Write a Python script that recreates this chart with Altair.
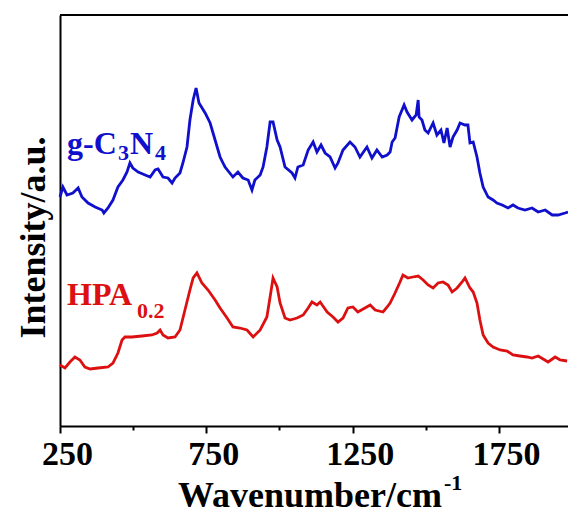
import altair as alt
import pandas as pd

# ---- data (wavenumber in cm-1, intensity in a.u.) ----
wn_blue = [250, 260, 274, 294, 312, 325, 346, 370, 394, 400, 414, 431, 448, 465, 479, 489,
           499, 517, 541, 558, 575, 585, 602, 619, 633, 643, 660, 670, 684, 694, 705, 715,
           725, 746, 763, 780, 797, 807, 814, 841, 858, 875, 893, 906, 916, 934, 944, 957,
           968, 978, 992, 1002, 1019, 1043, 1053, 1063, 1081, 1098, 1115, 1128, 1142, 1156,
           1173, 1190, 1200, 1217, 1241, 1258, 1275, 1299, 1316, 1333, 1351, 1368, 1378,
           1385, 1395, 1409, 1426, 1436, 1453, 1467, 1474, 1477, 1487, 1497, 1508, 1525,
           1538, 1552, 1562, 1573, 1583, 1593, 1607, 1617, 1634, 1644, 1651, 1662, 1675,
           1685, 1696, 1713, 1730, 1743, 1761, 1781, 1798, 1815, 1839, 1863, 1884, 1908,
           1932, 1952, 1976, 1986]
int_blue = [229, 239, 231, 233, 238, 229, 223, 219, 216, 213, 218, 226, 239, 246, 254, 263,
            258, 254, 251, 249, 256, 257, 249, 248, 243, 248, 253, 263, 279, 306, 326, 338,
            323, 313, 303, 286, 269, 263, 259, 249, 254, 248, 246, 236, 246, 251, 259, 279,
            304, 304, 286, 279, 259, 253, 248, 259, 261, 276, 284, 274, 281, 273,
            269, 258, 263, 276, 284, 279, 269, 279, 268, 276, 269, 271, 274,
            284, 288, 309, 321, 314, 306, 311, 326, 309, 306, 296, 293, 303,
            291, 296, 283, 298, 279, 289, 296, 303, 301, 301, 283, 284, 269,
            253, 239, 229, 226, 223, 221, 218, 221, 218, 216, 218, 214, 216,
            211, 211, 213, 214]

wn_red = [250, 267, 284, 301, 318, 335, 353, 380, 414, 431, 448, 462, 472, 496, 530, 564,
          582, 592, 602, 619, 643, 660, 677, 694, 705, 718, 735, 756, 780, 797, 821, 841,
          865, 889, 910, 934, 957, 968, 978, 992, 1002, 1019, 1036, 1060, 1081, 1098, 1111,
          1128, 1139, 1163, 1183, 1200, 1217, 1234, 1251, 1268, 1292, 1310, 1327, 1354,
          1368, 1378, 1395, 1412, 1422, 1439, 1456, 1474, 1491, 1508, 1525, 1542, 1559,
          1576, 1590, 1607, 1624, 1634, 1651, 1662, 1675, 1685, 1696, 1713, 1730, 1754,
          1778, 1798, 1822, 1846, 1863, 1884, 1901, 1918, 1942, 1959, 1983]
int_red = [61, 58, 64, 69, 66, 59, 57, 58, 59, 63, 73, 86, 89, 89, 90, 91,
           93, 96, 91, 88, 89, 96, 116, 136, 148, 153, 143, 136, 126, 118, 108, 99,
           98, 96, 89, 96, 109, 129, 148, 139, 123, 108, 106, 108, 111, 118, 124,
           121, 124, 114, 109, 104, 108, 118, 119, 114, 118, 121, 116, 114,
           119, 123, 133, 144, 151, 148, 149, 150, 146, 141, 138, 143, 144,
           141, 134, 138, 144, 148, 138, 134, 123, 106, 91, 83, 79, 76,
           75, 71, 70, 69, 68, 70, 67, 64, 69, 66, 65]

tick_values = [250, 500, 750, 1000, 1250, 1500, 1750]

FONT = "Liberation Serif"
W, H = 508, 411
BLUE = "#0F0FCC"
RED = "#DC1010"

blue_df = pd.DataFrame({"wn": wn_blue, "I": int_blue})
red_df = pd.DataFrame({"wn": wn_red, "I": int_red})

x_scale = alt.Scale(domain=[250, 1986], nice=False, zero=False)
y_scale = alt.Scale(domain=[0, 411], nice=False, zero=False)

x_axis = alt.Axis(
    values=tick_values, format="d", title=None, grid=False,
    labelExpr="datum.value % 500 == 250 ? datum.label : ''",
    tickSize={"condition": {"test": "datum.value % 500 == 250", "value": 7}, "value": 4},
    tickWidth=2, tickColor="black", domainWidth=2, domainColor="black",
    labelFont=FONT, labelFontWeight="bold", labelFontSize=34, labelColor="black",
    labelPadding=4, labelOffset=7, labelFlush=False, labelOverlap=False,
)
y_axis = alt.Axis(
    labels=False, ticks=False, grid=False, domainWidth=2, domainColor="black",
    title="Intensity/a.u.", titleFont=FONT, titleFontSize=36, titleFontWeight="bold",
    titleColor="black", titleX=-8, titleY=222, titleAngle=270, titleAlign="center",
    titleBaseline="bottom",
)

blue = alt.Chart(blue_df).mark_line(color=BLUE, strokeWidth=2.8).encode(
    x=alt.X("wn:Q", scale=x_scale, axis=x_axis),
    y=alt.Y("I:Q", scale=y_scale, axis=y_axis),
)
red = alt.Chart(red_df).mark_line(color=RED, strokeWidth=2.8).encode(
    x=alt.X("wn:Q", scale=x_scale, axis=x_axis),
    y=alt.Y("I:Q", scale=y_scale, axis=y_axis),
)

one = alt.Data(values=[{}])
top_border = alt.Chart(one).mark_rule(color="black", strokeWidth=2).encode(
    x=alt.value(0), x2=alt.value(W), y=alt.value(0)
)


def txt(s, x, y, size, color, align="left"):
    return alt.Chart(one).mark_text(
        text=s, font=FONT, fontWeight="bold", fontSize=size, color=color,
        align=align, baseline="alphabetic",
    ).encode(x=alt.value(x), y=alt.value(y))


labels = [
    txt("g-C", 7, 139, 32, BLUE),
    txt("3", 58, 145, 22, BLUE),
    txt("N", 70, 139, 32, BLUE),
    txt("4", 95, 145, 22, BLUE),
    txt("HPA", 7, 290, 32, RED),
    txt("0.2", 77, 303, 22, RED),
    txt("Wavenumber/cm", 382, 492, 36, "black", "right"),
    txt("-1", 384, 475, 22, "black"),
]

chart = alt.layer(blue, red, top_border, *labels).properties(
    width=W, height=H,
    autosize=alt.AutoSizeParams(type="none"),
    padding={"left": 60, "top": 15, "right": 0, "bottom": 91},
    background="white",
).configure_view(stroke=None)

chart.save("out.html", embed_options={"renderer": "svg", "actions": False})
